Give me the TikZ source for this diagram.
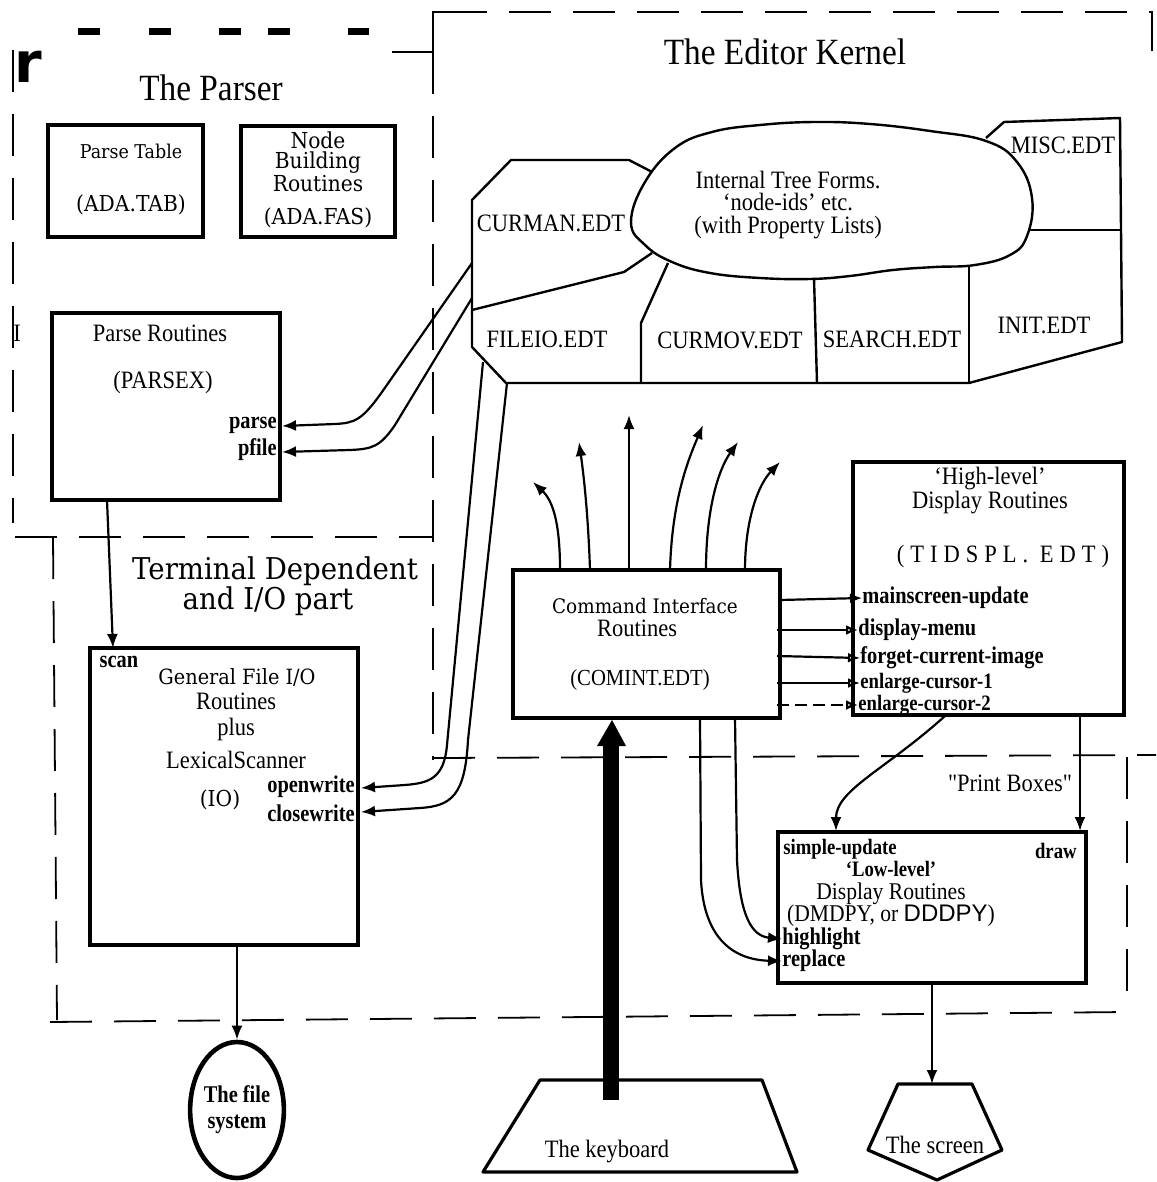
\documentclass[tikz,border=0pt]{standalone}
\usepackage{fontspec}
\setmainfont{Liberation Serif}
\newfontfamily\tms[FakeStretch=0.9]{Liberation Serif}
\newfontfamily\lbl[FakeStretch=0.85]{Liberation Serif}
\newfontfamily\cent[FakeStretch=0.92]{DejaVu Serif}
\newfontfamily\spc[FakeStretch=0.9,LetterSpace=24]{Liberation Serif}
\newfontfamily\hel{Liberation Sans}
\newfontfamily\heavy{DejaVu Sans}
\usetikzlibrary{arrows.meta,fit,shapes.geometric}

\tikzset{
  box/.style={draw, line width=1.7pt, inner sep=0pt},
  region/.style={line width=0.9pt, dash pattern=on 21pt off 11pt},
  kline/.style={line width=1.2pt, line join=round},
  conn/.style={line width=1.1pt},
  arrowhd/.style={-{Latex[length=7pt,width=5.5pt]}},
  openhd/.style={-{Latex[open,length=6pt,width=5pt]}},
  title/.style={font=\tms\fontsize{18.5}{20}\selectfont, inner sep=0pt},
  txt/.style={font=\tms\fontsize{#1}{#1}\selectfont, inner sep=0pt},
  txt/.default=12.5,
  lab/.style={font=\lbl\bfseries\fontsize{#1}{#1}\selectfont, inner sep=0pt},
  lab/.default=12,
  cen/.style={font=\cent\fontsize{#1}{#1}\selectfont, inner sep=0pt},
  cen/.default=10,
}

\begin{document}
\begin{tikzpicture}[x=0.5pt,y=-0.5pt]
\useasboundingbox (0,0) rectangle (1156,1182);
\fill[white] (0,0) rectangle (1156,1182);

% ---------- region boundaries ----------
\draw[region] (13,50) -- (13,523);
\draw[line width=3.5pt] (78,32)--(100,32) (149,32)--(171,32) (219,32)--(241,32)
      (268,32)--(290,32) (348,32)--(369,32);
\draw[line width=0.9pt] (392,52) -- (433,52) -- (433,12) -- (445,12);
\draw[region] (445,12) -- (1152,12) -- (1152,60);
\draw[region] (433,52) -- (433,760);
\draw[region] (15,537) -- (433,537);
\draw[region] (53,537) -- (57,1020);
\draw[region] (50,1022) -- (1127,1012);
\draw[region] (1127,757) -- (1127,1012);
\draw[region] (433,758) -- (1156,755);

% ---------- titles ----------
\node[title] (tkern) at (785,52) {The Editor Kernel};
\node[title] (tpars) at (211,88) {The Parser};
\node[font=\heavy\bfseries\fontsize{28}{28}\selectfont, inner sep=0pt] (rmark) at (28,67) {r};
\node[txt] (imark) at (17,333) {I};
\node[cen=15] (tterm1) at (275,571) {Terminal Dependent};
\node[cen=15] (tterm2) at (268,601) {and I/O part};

% ---------- parser boxes ----------
\node[box, fit={(48,125) (203,237)}] (ptab) {};
\node[cen=9.5] (ptab1) at (131,151) {Parse Table};
\node[cen=11] (ptab2) at (131,205) {(ADA.TAB)};
\node[box, fit={(241,126) (395,237)}] (nbr) {};
\node[align=center, inner sep=0pt, font=\cent\fontsize{11}{10.2}\selectfont] (nbr1) at (318,162)
      {Node\\Building\\Routines};
\node[cen=11] (nbr4) at (318,218) {(ADA.FAS)};
\node[box, fit={(52,313) (280,500)}] (prout) {};
\node[txt] (prout1) at (160,333) {Parse Routines};
\node[txt] (prout2) at (163,382) {(PARSEX)};
\node[lab, anchor=east] (lparse) at (277,425) {parse};
\node[lab, anchor=east] (lpfile) at (277,450) {pfile};

% ---------- editor kernel ----------
\draw[kline] (654,173) -- (629,160) -- (511,160) -- (472,200) -- (472,347) -- (506,383)
      -- (969,383) -- (1122,342) -- (1120,118) -- (1004,122) -- (986,138);
\draw[kline] (652,253) -- (624,272) -- (472,310);
\draw[kline] (668,263) -- (641,323) -- (641,383);
\draw[kline] (814,278) -- (817,383);
\draw[kline] (969,267) -- (969,383);
\draw[kline] (1029,230) -- (1120,230);
\draw[kline, fill=white] plot[smooth cycle, tension=0.7] coordinates {
  (631,222) (645,182) (675,148) (712,132) (760,125) (815,122) (870,124) (930,131)
  (986,141) (1017,162) (1032,198) (1027,236) (1010,255) (975,265) (935,267)
  (893,270) (850,276) (810,279) (760,278) (710,273) (672,262) (645,245)};
\node[align=center, inner sep=0pt, font=\tms\fontsize{12.5}{11.2}\selectfont] (blob) at (788,205)
      {Internal Tree Forms.\\‘node-ids’ etc.\\(with Property Lists)};
\node[txt] (kcurman) at (551,223) {CURMAN.EDT};
\node[txt] (kfileio) at (547,339) {FILEIO.EDT};
\node[txt] (kcurmov) at (730,340) {CURMOV.EDT};
\node[txt] (ksearch) at (892,339) {SEARCH.EDT};
\node[txt] (kinit) at (1044,325) {INIT.EDT};
\node[txt] (kmisc) at (1063,145) {MISC.EDT};

% ---------- terminal dependent part ----------
\node[box, fit={(90,648) (358,945)}] (gfio) {};
\node[lab] (lscan) at (119,662) {scan};
\node[cen=10.5] (gfio1) at (237,677) {General File I/O};
\node[txt] (gfio2) at (236,701) {Routines};
\node[txt] (gfio3) at (236,729) {plus};
\node[txt] (gfio4) at (236,760) {LexicalScanner};
\node[cen=11] (gfio5) at (220,800) {(IO)};
\node[lab, anchor=east] (lopen) at (355,787) {openwrite};
\node[lab, anchor=east] (lclose) at (355,813) {closewrite};

\node[box, fit={(513,570) (780,718)}] (cmd) {};
\node[cen=10] (cmd1) at (645,606) {Command Interface};
\node[txt] (cmd2) at (637,628) {Routines};
\node[txt=11.5] (cmd3) at (640,680) {(COMINT.EDT)};

\node[box, fit={(853,462) (1124,715)}] (hld) {};
\node[txt] (hld1) at (990,479) {‘High-level’};
\node[txt] (hld2) at (990,503) {Display Routines};
\node[font=\spc\fontsize{12.5}{12.5}\selectfont, inner sep=0pt] (hld3) at (1003,556) {(TIDSPL. EDT)};
\node[lab, anchor=west] (lmain) at (862,598) {mainscreen-update};
\node[lab, anchor=west] (lmenu) at (858,630) {display-menu};
\node[lab, anchor=west] (lforget) at (860,658) {forget-current-image};
\node[lab=11, anchor=west] (lcur1) at (860,683) {enlarge-cursor-1};
\node[lab=11, anchor=west] (lcur2) at (858,705) {enlarge-cursor-2};

\node[box, fit={(778,832) (1086,983)}] (lld) {};
\node[lab=11, anchor=west] (lsimple) at (783,849) {simple-update};
\node[lab=11, anchor=east] (ldraw) at (1077,851) {draw};
\node[align=center, inner sep=0pt, font=\tms\fontsize{12}{11.3}\selectfont] (lld1) at (891,894)
      {{\lbl\bfseries\fontsize{11}{11}\selectfont ‘Low-level’}\\Display Routines\\(DMDPY, or {\hel DDDPY})};
\node[lab, anchor=west] (lhigh) at (782,939) {highlight};
\node[lab, anchor=west] (lrepl) at (782,961) {replace};
\node[txt] (tprint) at (1010,783) {"Print Boxes"};

% ---------- external devices ----------
\node[draw, ellipse, line width=2.3pt, minimum width=42pt, minimum height=68pt,
      inner sep=0pt, align=center, font=\lbl\bfseries\fontsize{12}{12}\selectfont]
      (fs) at (237,1110) {The file\\[1pt]system};
\draw[line width=1.6pt, line join=round] (540,1080) -- (762,1080) -- (797,1172) -- (483,1172) -- cycle;
\node[txt] (kbd) at (607,1152) {The keyboard};
\draw[line width=1.6pt, line join=round] (898,1084) -- (972,1084) -- (1002,1150) -- (937,1180)
      -- (868,1150) -- cycle;
\node[txt] (scr) at (935,1145) {The screen};

% ---------- connector end points ----------
\coordinate (kA) at (472,263);  \coordinate (pA) at (282,426);
\coordinate (kB) at (472,298);  \coordinate (pB) at (282,452);
\coordinate (kC) at (483,362);  \coordinate (gA) at (361,788);
\coordinate (kD) at (507,383);  \coordinate (gB) at (361,812);
\coordinate (pOut) at (107,500); \coordinate (gIn) at (113,648);
\coordinate (gOut) at (237,945);
\coordinate (lOut) at (932,983);
\coordinate (kbTop) at (611,1100);

% kernel -> parse routines
\draw[conn,arrowhd] (kA) -- (382,392) .. controls (362,420) and (355,423) .. (335,424) -- (pA);
\draw[conn,arrowhd] (kB) -- (395,425) .. controls (380,447) and (372,449) .. (350,450) -- (pB);
% kernel -> file i/o
\draw[conn,arrowhd] (kC) -- (447,745) .. controls (444,778) and (430,783) .. (405,785) -- (gA);
\draw[conn,arrowhd] (kD) -- (468,740) .. controls (465,795) and (452,806) .. (420,808) -- (gB);
% parse routines -> scanner
\draw[conn,arrowhd] (pOut) -- (gIn);
% file i/o -> file system
\draw[conn,arrowhd] (gOut) -- (fs.north);

% command interface -> kernel
\draw[conn,arrowhd] (560,570) .. controls (560,520) and (552,500) .. (533,482);
\draw[conn,arrowhd] (590,570) .. controls (588,510) and (583,470) .. (579,442);
\draw[conn,arrowhd] (629,570) -- (629,415);
\draw[conn,arrowhd] (670,570) .. controls (672,500) and (688,460) .. (703,425);
\draw[conn,arrowhd] (706,570) .. controls (706,510) and (718,470) .. (738,442);
\draw[conn,arrowhd] (745,570) .. controls (745,520) and (758,485) .. (780,462);

% command interface -> high-level display
\draw[conn,openhd] (780,600) -- (lmain.west);
\draw[conn,openhd] (777,630) -- (lmenu.west);
\draw[conn,openhd] (777,656) -- (lforget.west);
\draw[conn,openhd] (777,683) -- (lcur1.west);
\draw[conn,openhd,dash pattern=on 6pt off 3pt] (777,705) -- (lcur2.west);

% high-level -> low-level
\draw[conn,arrowhd] (945,716) .. controls (885,770) and (836,790) .. (836,831);
\draw[conn,arrowhd] (1080,716) -- (1080,831);

% command interface -> low-level
\draw[conn,arrowhd] (735,718) -- (737,860) .. controls (740,917) and (752,936) .. (lhigh.west);
\draw[conn,arrowhd] (700,718) -- (701,880) .. controls (704,940) and (735,960) .. (lrepl.west);

% keyboard -> command interface
\draw[line width=8pt] (kbTop) -- (611,744);
\fill (597,746) -- (626,746) -- (612,720) -- cycle;

% low-level -> screen
\draw[conn,arrowhd] (lOut) -- (932,1084);
\end{tikzpicture}
\end{document}
